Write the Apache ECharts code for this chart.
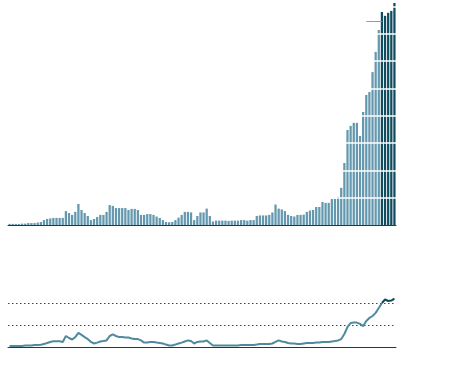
<!DOCTYPE html>
<html>
<head>
<meta charset="utf-8">
<script src="https://cdn.jsdelivr.net/npm/echarts@6/dist/echarts.min.js"></script>
<style>
html,body{margin:0;padding:0;background:#fff;}
#chart{width:474px;height:370px;}
</style>
</head>
<body>
<div id="chart"></div>
<script>
// Categories (one per bar / line point)
const categories = [];
for (let y = 1900; y <= 2023; y++) categories.push(String(y));

// Bar values (top panel)
const barValues = [
  0.4,0.4,0.4,0.4,0.5,0.5,0.7,0.7,0.7,0.9,
  1.1,1.8,2.2,2.4,2.6,2.6,2.6,2.6,5.1,4.4,
  3.7,4.8,7.7,5.5,4.4,3.3,1.8,2.2,2.9,3.7,
  3.7,4.8,7.3,7.0,6.2,6.2,6.2,6.2,5.5,5.9,
  5.9,5.5,3.7,3.7,4.0,4.0,3.7,3.1,2.6,1.8,
  1.1,1.0,1.1,1.8,2.7,3.7,4.8,4.8,4.6,1.8,
  3.3,4.6,4.6,6.0,3.3,1.3,1.6,1.6,1.6,1.6,
  1.5,1.6,1.6,1.6,1.8,1.8,1.6,1.8,1.8,3.3,
  3.5,3.5,3.5,3.7,4.6,7.5,6.0,5.7,5.1,3.7,
  3.3,3.1,3.7,3.7,3.8,4.8,5.3,5.5,6.6,6.6,
  8.4,8.1,8.1,9.5,9.5,10.3,13.6,22.7,34.8,36.3,
  37.4,37.4,32.6,41.4,47.6,48.7,56.0,63.4,71.4,78.0,
  76.6,77.7,78.4,81.3
];

// Line values (bottom panel)
const lineValues = [
  0.05,0.05,0.05,0.05,0.05,0.07,0.07,0.07,0.09,0.09,
  0.10,0.14,0.18,0.23,0.26,0.26,0.26,0.23,0.50,0.41,
  0.34,0.45,0.64,0.55,0.45,0.36,0.23,0.16,0.20,0.25,
  0.27,0.30,0.50,0.57,0.50,0.45,0.45,0.43,0.43,0.39,
  0.36,0.36,0.30,0.20,0.20,0.23,0.23,0.20,0.18,0.16,
  0.11,0.07,0.07,0.11,0.16,0.20,0.25,0.30,0.27,0.16,
  0.23,0.25,0.25,0.30,0.18,0.07,0.07,0.07,0.07,0.07,
  0.07,0.07,0.07,0.07,0.09,0.09,0.09,0.09,0.09,0.11,
  0.14,0.14,0.14,0.14,0.16,0.23,0.30,0.25,0.23,0.18,
  0.16,0.16,0.14,0.14,0.16,0.18,0.18,0.18,0.20,0.20,
  0.23,0.23,0.23,0.25,0.27,0.30,0.36,0.59,0.91,1.09,
  1.11,1.11,1.05,0.95,1.18,1.32,1.41,1.55,1.77,2.00,
  2.16,2.09,2.11,2.20
];

const highlightFrom = 119;
const annotationFrom = 114;
const annotationValue = 74.7;

const lightColor = '#6398ae';
const darkColor = '#0f4c5f';
const lineLight = '#4f8a9e';

const chart = echarts.init(document.getElementById('chart'), null, {renderer: 'canvas'});

const barData = barValues.map((v, i) => ({
  value: v,
  itemStyle: { color: i >= highlightFrom ? darkColor : lightColor }
}));
const lineLightData = lineValues.map((v, i) => (i <= highlightFrom ? v : null));
const lineDarkData = lineValues.map((v, i) => (i >= highlightFrom ? v : null));

chart.setOption({
  animation: false,
  backgroundColor: '#ffffff',
  grid: [
    { left: 8, right: 78, top: 0, bottom: 145 },
    { left: 8, right: 78, top: 294.2, bottom: 23 }
  ],
  xAxis: [
    {
      gridIndex: 0, type: 'category', data: categories, boundaryGap: true,
      axisLine: { show: true, lineStyle: { color: '#333', width: 1 } },
      axisTick: { show: false }, axisLabel: { show: false }, splitLine: { show: false }
    },
    {
      gridIndex: 1, type: 'category', data: categories, boundaryGap: true,
      axisLine: { show: true, lineStyle: { color: '#333', width: 1 } },
      axisTick: { show: false }, axisLabel: { show: false }, splitLine: { show: false }
    }
  ],
  yAxis: [
    {
      gridIndex: 0, type: 'value', min: 0, max: 82.4, interval: 10, z: 5,
      axisLine: { show: false }, axisTick: { show: false }, axisLabel: { show: false },
      splitLine: { show: true, showMinLine: false, showMaxLine: false, lineStyle: { color: '#ffffff', width: 1.5 } }
    },
    {
      gridIndex: 1, type: 'value', min: 0, max: 2.4, interval: 1,
      axisLine: { show: false }, axisTick: { show: false }, axisLabel: { show: false },
      splitLine: { show: true, showMinLine: false, showMaxLine: false, lineStyle: { color: '#444', width: 1, type: [1.5, 2.5] } }
    }
  ],
  series: [
    {
      type: 'bar', xAxisIndex: 0, yAxisIndex: 0, data: barData,
      barCategoryGap: '28%',
      markLine: {
        silent: true, symbol: ['none', 'none'], label: { show: false },
        lineStyle: { color: '#9a9a9a', width: 1, type: 'solid' },
        data: [[
          { coord: [categories[annotationFrom], annotationValue] },
          { coord: [categories[highlightFrom], annotationValue] }
        ]]
      }
    },
    {
      type: 'line', xAxisIndex: 1, yAxisIndex: 1, data: lineLightData,
      symbol: 'none', smooth: false, connectNulls: false,
      lineStyle: { width: 2, color: lineLight }
    },
    {
      type: 'line', xAxisIndex: 1, yAxisIndex: 1, data: lineDarkData,
      symbol: 'none', smooth: false, connectNulls: false,
      lineStyle: { width: 2, color: darkColor }
    }
  ]
});
</script>
</body>
</html>
